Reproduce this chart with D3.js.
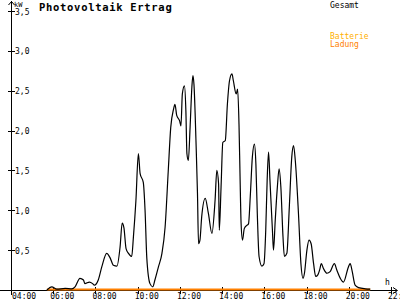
<!DOCTYPE html>
<html>
<head>
<meta charset="utf-8">
<script src="https://cdn.jsdelivr.net/npm/d3@7"></script>
<style>
  body { margin: 0; background: #fff; }
  svg { display: block; }
  text { font-family: "DejaVu Sans Mono", monospace; font-size: 8px; }
</style>
</head>
<body>
<svg id="chart" width="400" height="300"></svg>
<script>
// minutes since midnight and kW for the "Gesamt" series
const pvMinutes = [342, 356, 370, 394, 413, 422, 436, 446, 450, 463, 472, 477, 488, 498, 512, 522, 531, 541,
  550, 556, 561, 567, 574, 583, 588, 595, 602, 607, 616, 621, 626, 635, 643, 649, 659, 669, 678, 687,
  694, 702, 706, 711, 719, 723, 727, 733, 737, 740, 744, 749, 754, 757, 760, 766, 770, 773, 777, 782,
  792, 801, 811, 820, 825, 830, 832, 837, 842, 849, 855, 861, 868, 872, 880, 884, 888, 891, 894, 898,
  903, 910, 915, 920, 926, 932, 936, 940, 945, 953, 959, 964, 968, 972, 976, 983, 986, 991, 997, 1002,
  1007, 1013, 1017, 1024, 1031, 1038, 1043, 1048, 1057, 1064, 1070, 1074, 1081, 1087, 1093, 1100, 1106,
  1112, 1117, 1122, 1128, 1138, 1147, 1159, 1166, 1176, 1185, 1199, 1204, 1209, 1218, 1228, 1247, 1261];
const pvValues = [0, 0.04, 0.01, 0.02, 0.015, 0.04, 0.146, 0.125, 0.08, 0.10, 0.08, 0.06, 0.125, 0.29, 0.46, 0.40, 0.31, 0.30,
  0.54, 0.84, 0.78, 0.52, 0.46, 0.42, 0.67, 1.12, 1.71, 1.46, 1.35, 1.0, 0.4, 0.08, 0.04, 0.125, 0.29, 0.46, 0.79, 1.5,
  2.04, 2.27, 2.33, 2.19, 2.125, 2.06, 2.46, 2.56, 2.25, 1.71, 1.625, 2.04, 2.54, 2.69, 2.58, 1.83, 1.21, 0.58, 0.625, 0.92,
  1.15, 0.96, 0.71, 1.125, 1.5, 1.33, 0.75, 1.29, 1.85, 1.875, 2.33, 2.625, 2.71, 2.625, 2.46, 2.52, 2.08, 1.42, 0.83, 0.625,
  0.77, 0.81, 0.83, 1.17, 1.67, 1.83, 1.58, 0.96, 0.42, 0.30, 0.33, 0.75, 1.375, 1.73, 1.375, 0.75, 0.5, 0.875, 1.29, 1.52,
  1.29, 0.67, 0.42, 0.46, 1.04, 1.67, 1.81, 1.625, 0.96, 0.33, 0.146, 0.21, 0.5, 0.625, 0.58, 0.33, 0.17,
  0.19, 0.25, 0.33, 0.27, 0.21, 0.23, 0.33, 0.25, 0.146, 0.10, 0.29, 0.33, 0.25, 0.06, 0.03, 0.015, 0.01];

// battery charging stays at zero the whole day
const battMinutes = [342, 1261];
const battValues = [0, 0];

const xTickHours = [4, 6, 8, 10, 12, 14, 16, 18, 20, 22];
const xTickLabels = ["04:00", "06:00", "08:00", "10:00", "12:00", "14:00", "16:00", "18:00", "20:00", "22:00"];
const yTicks = [0.5, 1.0, 1.5, 2.0, 2.5, 3.0, 3.5];

const svg = d3.select("#chart");
const x = d3.scaleLinear().domain([4, 22]).range([11, 391]);
const y = d3.scaleLinear().domain([0, 3.5]).range([290, 11]);

const line = d3.line()
  .x(d => x(d[0] / 60))
  .y(d => y(d[1]))
  .curve(d3.curveMonotoneX);

// axes
const axes = svg.append("g").attr("stroke", "#000").attr("shape-rendering", "crispEdges");
axes.append("line").attr("x1", 0).attr("x2", 397).attr("y1", 290.5).attr("y2", 290.5);
axes.append("line").attr("x1", 11.5).attr("x2", 11.5).attr("y1", 1).attr("y2", 295);
// arrow heads
svg.append("path").attr("d", "M8.5,5L11.5,1.5L14.5,5").attr("fill", "none").attr("stroke", "#000");
svg.append("path").attr("d", "M393,287.5L397.5,290.5L393,293.5").attr("fill", "none").attr("stroke", "#000");

axes.selectAll(".ytick")
  .data(yTicks)
  .join("line")
  .attr("x1", 8).attr("x2", 15)
  .attr("y1", d => Math.round(y(d)) + 0.5)
  .attr("y2", d => Math.round(y(d)) + 0.5);

svg.selectAll(".ylab")
  .data(yTicks)
  .join("text")
  .attr("x", 15)
  .attr("y", d => y(d) + 3.5)
  .text(d => d3.format(".1f")(d).replace(".", ","));

axes.selectAll(".xtick")
  .data(xTickHours.slice(1))
  .join("line")
  .attr("x1", d => Math.round(x(d)) + 0.5)
  .attr("x2", d => Math.round(x(d)) + 0.5)
  .attr("y1", 287).attr("y2", 294);

svg.selectAll(".xlab")
  .data(xTickHours)
  .join("text")
  .attr("x", (d, i) => i === 0 ? x(d) + 1 : x(d) - 3)
  .attr("y", 299)
  .text((d, i) => xTickLabels[i]);

svg.append("text").attr("x", 14).attr("y", 7).style("font-size", "7px").text("kW");
svg.append("text").attr("x", 385).attr("y", 285).text("h");

// series
svg.append("path")
  .datum(d3.zip(battMinutes, battValues))
  .attr("d", line)
  .attr("fill", "none")
  .attr("stroke", "#ff8000")
  .attr("stroke-width", 2)
  .attr("transform", "translate(0,-0.5)");

svg.append("path")
  .datum(d3.zip(pvMinutes, pvValues))
  .attr("d", line)
  .attr("fill", "none")
  .attr("stroke", "#000")
  .attr("stroke-width", 1.2);

// title and legend
svg.append("text")
  .attr("x", 39).attr("y", 11)
  .style("font-size", "10.5px")
  .style("font-weight", "bold")
  .style("letter-spacing", "0.7px")
  .text("Photovoltaik Ertrag");

svg.append("text").attr("x", 330).attr("y", 8).attr("fill", "#000").text("Gesamt");
svg.append("text").attr("x", 330).attr("y", 39).attr("fill", "#ffb000").text("Batterie");
svg.append("text").attr("x", 330).attr("y", 47).attr("fill", "#ff8000").text("Ladung");
</script>
</body>
</html>
